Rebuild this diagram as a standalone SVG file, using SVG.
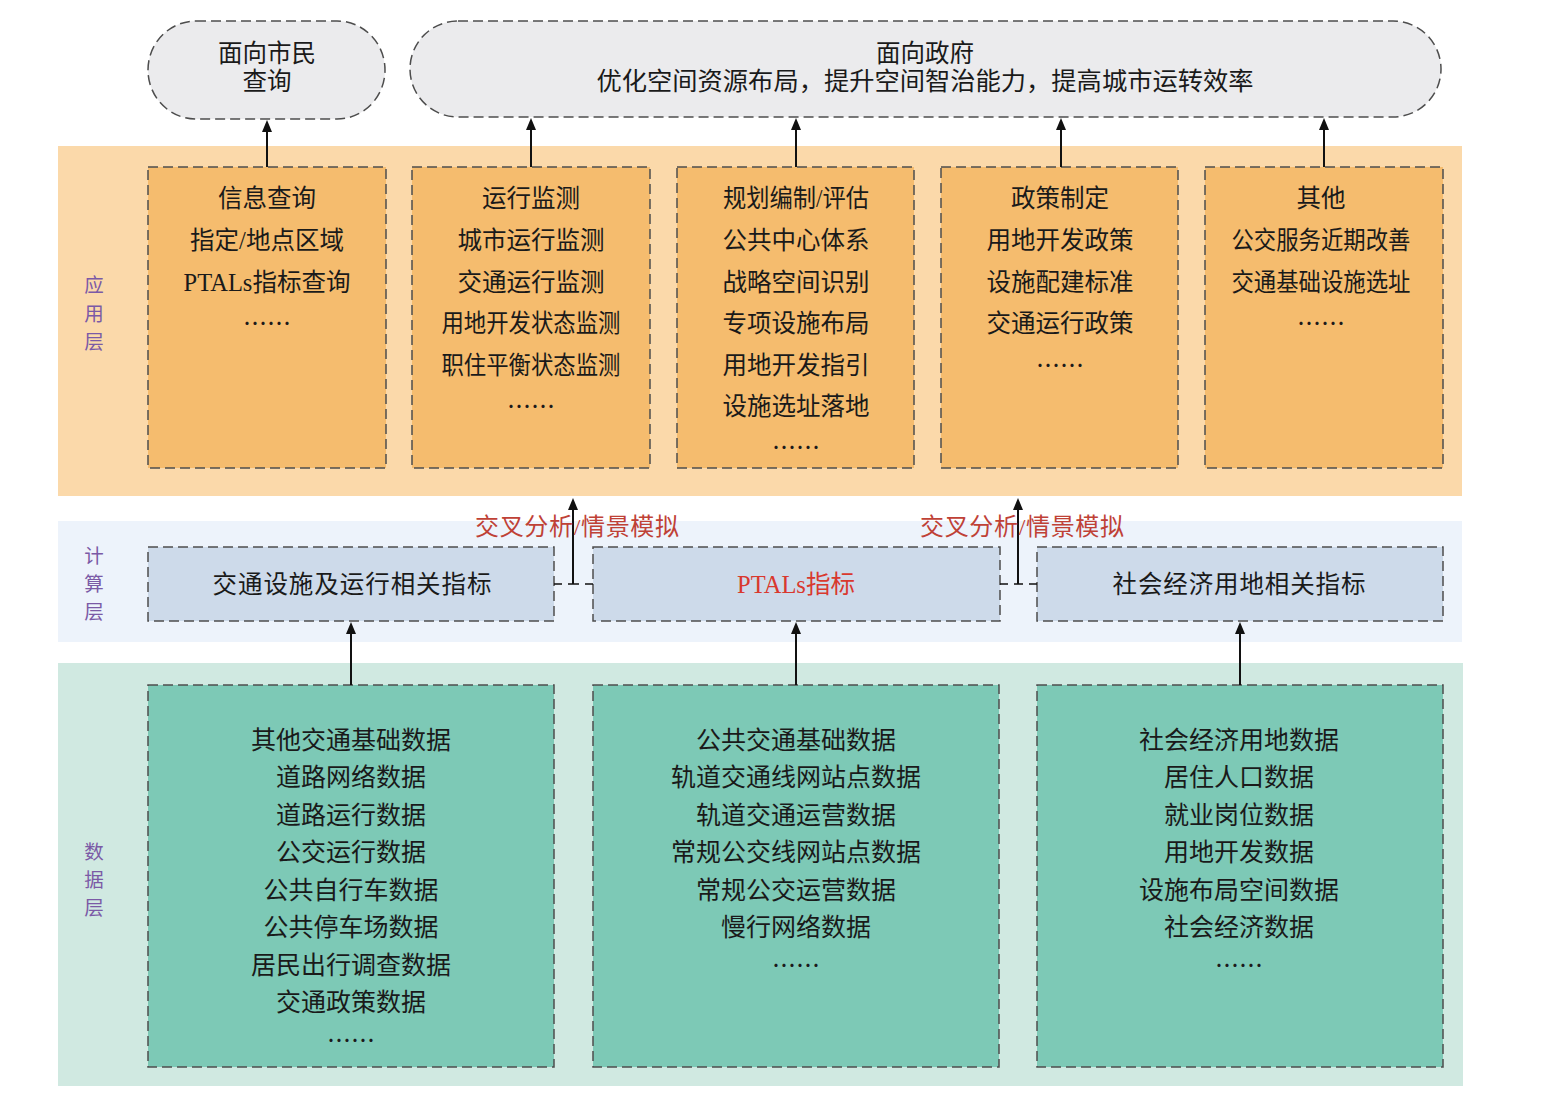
<svg xmlns="http://www.w3.org/2000/svg" width="1542" height="1109" viewBox="0 0 1542 1109">
<style>
.t{font-family:"Liberation Serif","Noto Sans CJK SC",sans-serif;font-size:24.5px;fill:#1a1a1a;text-anchor:middle}
.d{font-family:"Liberation Serif","Noto Sans CJK SC",sans-serif;font-size:25px;fill:#1a1a1a;text-anchor:middle}
.e{font-family:"Noto Sans CJK SC",sans-serif;font-size:24px;fill:#1a1a1a;text-anchor:middle}
.lay{font-family:"Noto Sans CJK SC",sans-serif;font-size:19.5px;fill:#7b5aa6;text-anchor:middle}
.red{font-family:"Liberation Serif","Noto Sans CJK SC",sans-serif;font-size:24px;fill:#bf4136;text-anchor:middle}
.box{stroke:#4d4d4d;stroke-width:1.5;stroke-dasharray:10 5}
.app{fill:#f5bc6e}
.cmp{fill:#cddaea}
.dat{fill:#7dc9b6}
.pill{fill:#ebebed}
.c{fill:none;stroke:#111;stroke-width:2}
.cd{fill:none;stroke:#111;stroke-width:1.5;stroke-dasharray:8 6}
</style>
<defs>
<marker id="ah" viewBox="0 0 12 10" markerWidth="12" markerHeight="10" refX="6" refY="5" orient="auto" markerUnits="userSpaceOnUse">
<path d="M0,0 L12,5 L0,10 z" fill="#111"/>
</marker>
</defs>
<rect width="1542" height="1109" fill="#ffffff"/>

<g id="bands">
<rect x="58" y="146" width="1404" height="350" fill="#fbd9aa"/>
<rect x="58" y="521" width="1404" height="121" fill="#edf3fb"/>
<rect x="58" y="663" width="1405" height="423" fill="#d0e9e1"/>
</g>

<g id="layer-labels">
<text class="lay"><tspan x="94" y="292">应</tspan><tspan x="94" y="320.5">用</tspan><tspan x="94" y="349">层</tspan></text>
<text class="lay"><tspan x="94" y="563">计</tspan><tspan x="94" y="591">算</tspan><tspan x="94" y="619">层</tspan></text>
<text class="lay"><tspan x="94" y="859">数</tspan><tspan x="94" y="887">据</tspan><tspan x="94" y="915">层</tspan></text>
</g>

<g id="citizen">
<rect class="pill box" x="148" y="21" width="237" height="98" rx="48" ry="49"/>
<text class="t" x="267" y="62" font-size="25">面向市民</text>
<text class="t" x="267" y="90" font-size="25">查询</text>
</g>

<g id="government">
<rect class="pill box" x="410" y="21" width="1031" height="96" rx="48" ry="48"/>
<text class="t" x="925" y="62" font-size="25">面向政府</text>
<text class="t" x="925" y="90" textLength="657" lengthAdjust="spacingAndGlyphs">优化空间资源布局，提升空间智治能力，提高城市运转效率</text>
</g>

<g id="app-info">
<rect class="app box" x="148" y="167" width="238" height="301"/>
<text class="t" x="267" y="207">信息查询</text>
<text class="t" x="267" y="249">指定/地点区域</text>
<text class="t" x="267" y="291">PTALs指标查询</text>
<text class="e" x="267" y="332">……</text>
</g>

<g id="app-monitor">
<rect class="app box" x="412" y="167" width="238" height="301"/>
<text class="t" x="531" y="207">运行监测</text>
<text class="t" x="531" y="249">城市运行监测</text>
<text class="t" x="531" y="291">交通运行监测</text>
<text class="t" x="531" y="332" textLength="179" lengthAdjust="spacingAndGlyphs">用地开发状态监测</text>
<text class="t" x="531" y="374" textLength="179" lengthAdjust="spacingAndGlyphs">职住平衡状态监测</text>
<text class="e" x="531" y="415">……</text>
</g>

<g id="app-plan">
<rect class="app box" x="677" y="167" width="237" height="301"/>
<text class="t" x="796" y="207" textLength="146" lengthAdjust="spacingAndGlyphs">规划编制/评估</text>
<text class="t" x="796" y="249">公共中心体系</text>
<text class="t" x="796" y="291">战略空间识别</text>
<text class="t" x="796" y="332">专项设施布局</text>
<text class="t" x="796" y="374">用地开发指引</text>
<text class="t" x="796" y="415">设施选址落地</text>
<text class="e" x="796" y="456">……</text>
</g>

<g id="app-policy">
<rect class="app box" x="941" y="167" width="237" height="301"/>
<text class="t" x="1060" y="207">政策制定</text>
<text class="t" x="1060" y="249">用地开发政策</text>
<text class="t" x="1060" y="291">设施配建标准</text>
<text class="t" x="1060" y="332">交通运行政策</text>
<text class="e" x="1060" y="374">……</text>
</g>

<g id="app-other">
<rect class="app box" x="1205" y="167" width="238" height="301"/>
<text class="t" x="1321" y="207">其他</text>
<text class="t" x="1321" y="249" textLength="179" lengthAdjust="spacingAndGlyphs">公交服务近期改善</text>
<text class="t" x="1321" y="291" textLength="179" lengthAdjust="spacingAndGlyphs">交通基础设施选址</text>
<text class="e" x="1321" y="332">……</text>
</g>

<g id="cmp-traffic">
<rect class="cmp box" x="148" y="547" width="406" height="74"/>
<text class="t" x="352" y="593" font-size="24" textLength="279" lengthAdjust="spacing">交通设施及运行相关指标</text>
</g>

<g id="cmp-ptals">
<rect class="cmp box" x="593" y="547" width="407" height="74"/>
<text class="t" x="796" y="593" font-size="24" style="fill:#d9382e">PTALs指标</text>
</g>

<g id="cmp-socio">
<rect class="cmp box" x="1037" y="547" width="406" height="74"/>
<text class="t" x="1239" y="593" font-size="24" textLength="253" lengthAdjust="spacing">社会经济用地相关指标</text>
</g>

<g id="data-traffic">
<rect class="dat box" x="148" y="685" width="406" height="382"/>
<text class="d" x="351" y="749">其他交通基础数据</text>
<text class="d" x="351" y="786">道路网络数据</text>
<text class="d" x="351" y="824">道路运行数据</text>
<text class="d" x="351" y="861">公交运行数据</text>
<text class="d" x="351" y="899">公共自行车数据</text>
<text class="d" x="351" y="936">公共停车场数据</text>
<text class="d" x="351" y="974">居民出行调查数据</text>
<text class="d" x="351" y="1011">交通政策数据</text>
<text class="e" x="351" y="1049">……</text>
</g>

<g id="data-transit">
<rect class="dat box" x="593" y="685" width="406" height="382"/>
<text class="d" x="796" y="749">公共交通基础数据</text>
<text class="d" x="796" y="786">轨道交通线网站点数据</text>
<text class="d" x="796" y="824">轨道交通运营数据</text>
<text class="d" x="796" y="861">常规公交线网站点数据</text>
<text class="d" x="796" y="899">常规公交运营数据</text>
<text class="d" x="796" y="936">慢行网络数据</text>
<text class="e" x="796" y="974">……</text>
</g>

<g id="data-socio">
<rect class="dat box" x="1037" y="685" width="406" height="382"/>
<text class="d" x="1239" y="749">社会经济用地数据</text>
<text class="d" x="1239" y="786">居住人口数据</text>
<text class="d" x="1239" y="824">就业岗位数据</text>
<text class="d" x="1239" y="861">用地开发数据</text>
<text class="d" x="1239" y="899">设施布局空间数据</text>
<text class="d" x="1239" y="936">社会经济数据</text>
<text class="e" x="1239" y="974">……</text>
</g>

<g id="connectors">
<path class="c" d="M267,167 V126" marker-end="url(#ah)"/>
<path class="c" d="M531,167 V124" marker-end="url(#ah)"/>
<path class="c" d="M796,167 V124" marker-end="url(#ah)"/>
<path class="c" d="M1061,167 V124" marker-end="url(#ah)"/>
<path class="c" d="M1324,167 V124" marker-end="url(#ah)"/>
<path class="cd" d="M554,584 H573"/>
<path class="cd" d="M593,584 H573"/>
<path class="c" d="M573,584 V504" marker-end="url(#ah)"/>
<path class="cd" d="M1000,584 H1018"/>
<path class="cd" d="M1037,584 H1018"/>
<path class="c" d="M1018,584 V504" marker-end="url(#ah)"/>
<path class="c" d="M351,685 V628" marker-end="url(#ah)"/>
<path class="c" d="M796,685 V628" marker-end="url(#ah)"/>
<path class="c" d="M1240,685 V628" marker-end="url(#ah)"/>
<text class="red" x="577" y="535" textLength="204" lengthAdjust="spacing">交叉分析/情景模拟</text>
<text class="red" x="1022" y="535" textLength="204" lengthAdjust="spacing">交叉分析/情景模拟</text>
</g>
</svg>
